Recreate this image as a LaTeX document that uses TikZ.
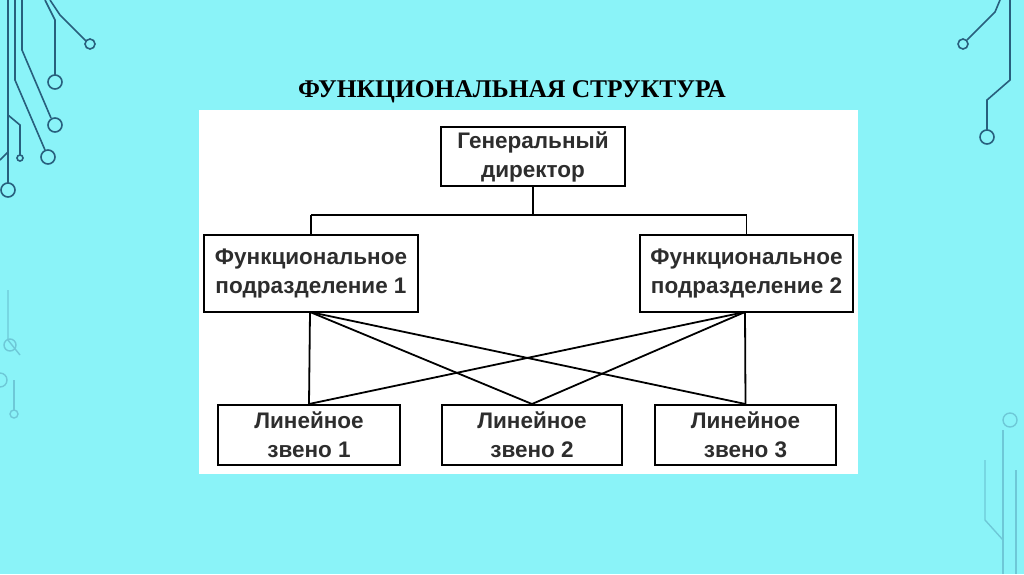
\documentclass[tikz,border=0pt]{standalone}
\usepackage{fontspec}
\setmainfont{Liberation Serif}
\newfontfamily\boxfont{Liberation Sans}
\definecolor{bg}{RGB}{138,243,248}
\definecolor{circ}{RGB}{40,95,125}
\definecolor{faint}{RGB}{110,200,215}
\definecolor{txt}{RGB}{45,45,45}
\begin{document}
\begin{tikzpicture}[x=1pt,y=-1pt,
  box/.style={draw=black,line width=2pt,fill=white,font=\boxfont\bfseries\fontsize{22.5}{29}\selectfont,text=txt,align=center,inner sep=0pt},
  wire/.style={line width=1.8pt,black},
  trace/.style={circ,line width=1.6pt},
  ftrace/.style={faint,line width=1.4pt}]
\fill[bg] (0,0) rectangle (1024,574);
\useasboundingbox (0,0) rectangle (1024,574);
% decorations left
\draw[trace] (8,0) -- (8,183);
\draw[trace] (8,190) circle (7);
\draw[trace] (15,0) -- (15,80) -- (45,150);
\draw[trace] (48,157) circle (7);
\draw[trace] (22,0) -- (22,50) -- (51,118);
\draw[trace] (55,125) circle (7);
\draw[trace] (45,0) -- (55,20) -- (55,75);
\draw[trace] (55,82) circle (7);
\draw[trace] (50,0) -- (60,15) -- (86,41);
\draw[trace] (90,44) circle (5);
\draw[trace] (8,115) -- (20,125) -- (20,155);
\draw[trace] (20,158) circle (3);
\draw[trace] (0,160) -- (8,152);
% decorations right
\draw[trace] (1010,0) -- (1010,80) -- (987,100) -- (987,130);
\draw[trace] (987,137) circle (7);
\draw[trace] (1000,0) -- (995,12) -- (967,40);
\draw[trace] (963,44) circle (5);
% faint lower decorations
\draw[ftrace] (8,290) -- (8,340) -- (20,355);
\draw[ftrace] (10,345) circle (6);
\draw[ftrace] (0,380) circle (7);
\draw[ftrace] (14,380) -- (14,410);
\draw[ftrace] (14,414) circle (4);
\draw[ftrace] (1010,420) circle (7);
\draw[ftrace] (1003,430) -- (1003,574);
\draw[ftrace] (985,460) -- (985,520) -- (1003,540);
\draw[ftrace] (1016,470) -- (1016,574);
% title
\node[font=\bfseries\fontsize{25.5}{30}\selectfont] (title) at (512,92) {ФУНКЦИОНАЛЬНАЯ СТРУКТУРА};
% white panel
\fill[white] (199,110) rectangle (858,474);
% nodes
\node[box,minimum width=184pt,minimum height=59pt] (gd) at (533,156.5) {Генеральный\\директор};
\node[box,minimum width=214pt,minimum height=77pt] (f1) at (311,273.5) {Функциональное\\подразделение 1};
\node[box,minimum width=213pt,minimum height=77pt] (f2) at (746.5,273.5) {Функциональное\\подразделение 2};
\node[box,minimum width=182pt,minimum height=60pt] (l1) at (309,435) {Линейное\\звено 1};
\node[box,minimum width=180pt,minimum height=60pt] (l2) at (532,435) {Линейное\\звено 2};
\node[box,minimum width=181pt,minimum height=60pt] (l3) at (745.5,435) {Линейное\\звено 3};
\coordinate (hj) at (533,215);
\draw[wire] (gd.south) -- (hj);
\draw[wire] (f1.north |- hj) -- (f2.north |- hj);
\draw[wire] (f1.north |- hj) -- (f1.north);
\draw[wire] (f2.north |- hj) -- (f2.north);
\coordinate (a1) at (310,312);
\coordinate (a2) at (745,312);
\draw[wire] (a1) -- (l1.north);
\draw[wire] (a1) -- (l2.north);
\draw[wire] (a1) -- (l3.north);
\draw[wire] (a2) -- (l3.north);
\draw[wire] (a2) -- (l2.north);
\draw[wire] (a2) -- (l1.north);
\end{tikzpicture}
\end{document}
